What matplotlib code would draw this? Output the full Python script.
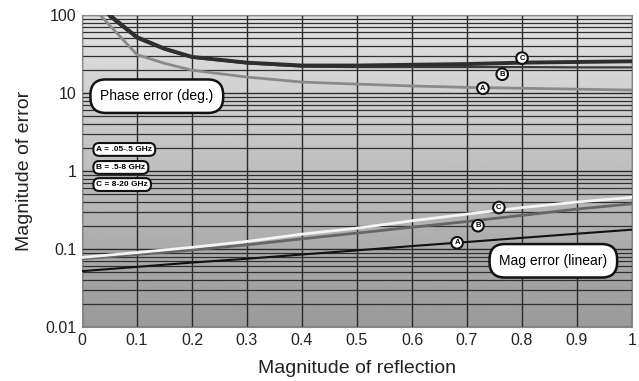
import numpy as np
import matplotlib.pyplot as plt
from matplotlib.ticker import LogLocator, FixedLocator

# phase error curves (deg.)
phase_a_x = [0.033, 0.05, 0.1, 0.15, 0.2, 0.3, 0.4, 0.5, 0.6, 0.7, 0.8, 0.9, 1.0]
phase_a = [100, 74, 31, 24, 19.6, 16, 13.8, 13, 12.3, 11.8, 11.5, 11.2, 10.9]
phase_bc_x = [0.05, 0.1, 0.15, 0.2, 0.3, 0.4, 0.5, 0.6, 0.7, 0.8, 0.9, 1.0]
phase_b = [95, 50, 36, 28.5, 24, 21.8, 21.5, 21.5, 21.5, 21.5, 21.3, 21.3]
phase_c = [100, 52, 37, 29, 24.5, 22.5, 22.5, 23, 23.5, 24.5, 25, 25.5]

# magnitude error curves (linear)
mag_x = [0, 0.1, 0.2, 0.3, 0.4, 0.5, 0.6, 0.7, 0.8, 0.9, 1.0]
mag_a = [0.052, 0.059, 0.067, 0.075, 0.085, 0.096, 0.109, 0.123, 0.139, 0.157, 0.177]
mag_b = [0.075, 0.085, 0.097, 0.113, 0.135, 0.16, 0.19, 0.225, 0.27, 0.325, 0.38]
mag_c = [0.078, 0.09, 0.105, 0.125, 0.155, 0.185, 0.23, 0.28, 0.34, 0.4, 0.46]

legend_labels = ["A = .05-.5 GHz", "B = .5-8 GHz", "C = 8-20 GHz"]
x_ticks = [0, 0.1, 0.2, 0.3, 0.4, 0.5, 0.6, 0.7, 0.8, 0.9, 1.0]
x_tick_labels = ['0', '0.1', '0.2', '0.3', '0.4', '0.5', '0.6', '0.7', '0.8', '0.9', '1']
y_ticks = [0.01, 0.1, 1, 10, 100]
y_tick_labels = ['0.01', '0.1', '1', '10', '100']

plt.rcParams['font.family'] = ['Liberation Sans', 'DejaVu Sans']

fig = plt.figure(figsize=(6.39, 3.81), dpi=100)
ax = fig.add_axes([82 / 639, 1 - 327 / 381, 550 / 639, 312 / 381])

# gray gradient background, darker at the bottom
grad = np.linspace(0.6, 0.89, 256).reshape(-1, 1)
ax.imshow(grad, extent=[0, 1, 0, 1], transform=ax.transAxes, cmap='gray',
          vmin=0, vmax=1, origin='lower', aspect='auto', zorder=0)

ax.set_yscale('log')
ax.set_xlim(0, 1)
ax.set_ylim(0.01, 100)

ax.xaxis.set_major_locator(FixedLocator(x_ticks))
ax.set_xticklabels(x_tick_labels)
ax.set_yticks(y_ticks)
ax.set_yticklabels(y_tick_labels)
ax.yaxis.set_minor_locator(LogLocator(base=10, subs=np.arange(2, 10), numticks=10))
ax.tick_params(which='both', length=0, labelsize=11.5, colors='#222222', pad=4)

ax.grid(True, which='major', axis='both', color='#2a2a2a', lw=1.0, zorder=1)
ax.grid(True, which='minor', axis='y', color='#303030', lw=0.9, zorder=1)
for s in ax.spines.values():
    s.set_color('#888888')
    s.set_linewidth(0.8)

ax.plot(phase_a_x, phase_a, color='#8a8a8a', lw=2, zorder=3)
ax.plot(phase_bc_x, phase_b, color='#3a3a3a', lw=1.6, zorder=3)
ax.plot(phase_bc_x, phase_c, color='#2e2e2e', lw=2.8, zorder=3)

ax.plot(mag_x, mag_a, color='#111111', lw=1.5, zorder=3)
ax.plot(mag_x, mag_b, color='#666666', lw=2, zorder=3)
ax.plot(mag_x, mag_c, color='#f4f4f4', lw=2, zorder=4)

box = dict(boxstyle='round,pad=0.7,rounding_size=1.1', fc='white', ec='#111111', lw=1.8)
ax.text(0.136, 9.1, "Phase error (deg.)", fontsize=10, ha='center', va='center',
        bbox=box, zorder=6)
ax.text(0.857, 0.0706, "Mag error (linear)", fontsize=10, ha='center', va='center',
        bbox=box, zorder=6)

small_box = dict(boxstyle='round,pad=0.35,rounding_size=0.7', fc='white', ec='#111111', lw=1.5)
for lab, yv in zip(legend_labels, [1.89, 1.11, 0.67]):
    ax.text(0.026, yv, lab, fontsize=6, fontweight='bold', ha='left', va='center',
            bbox=small_box, zorder=6)

circ = dict(boxstyle='circle,pad=0.3', fc='white', ec='#111111', lw=1.5)
for lab, xv, yv in [('C', 0.8, 28), ('B', 0.764, 17.4), ('A', 0.729, 11.5),
                    ('C', 0.758, 0.34), ('B', 0.72, 0.199), ('A', 0.682, 0.12)]:
    ax.text(xv, yv, lab, fontsize=5.5, fontweight='bold', ha='center', va='center',
            bbox=circ, zorder=7)

ax.set_xlabel("Magnitude of reflection", fontsize=14, labelpad=9, color='#222222')
ax.set_ylabel("Magnitude of error", fontsize=14, labelpad=9, color='#222222')

fig.savefig("out.png", dpi=100)
